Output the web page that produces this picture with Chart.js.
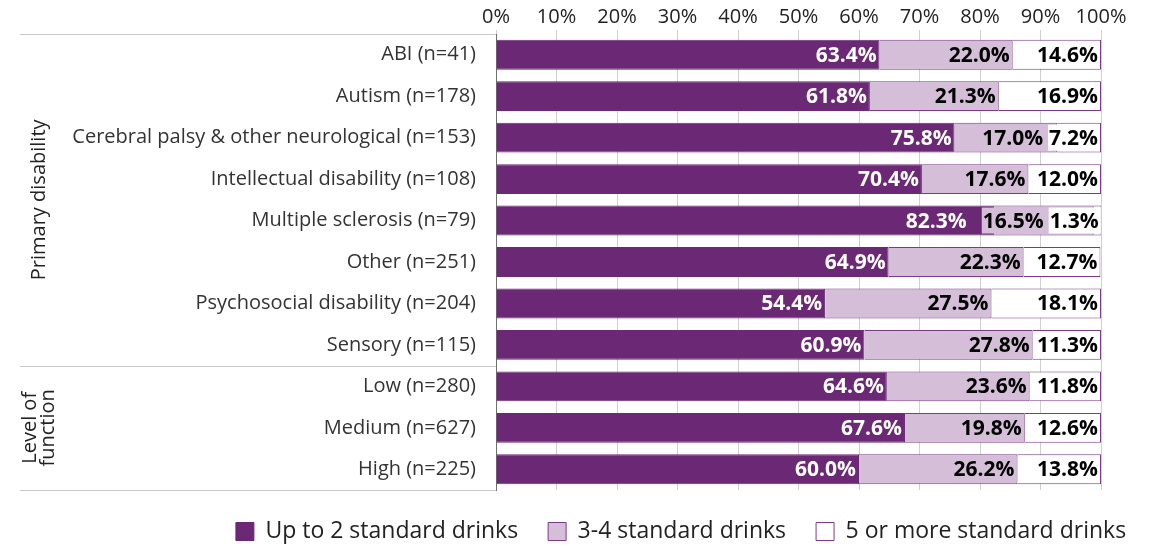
<!DOCTYPE html>
<html>
<head>
<meta charset="utf-8">
<script src="https://cdn.jsdelivr.net/npm/chart.js@4.4.1/dist/chart.umd.min.js"></script>
<style>
  html, body { margin: 0; padding: 0; background: #ffffff; }
  #wrap { width: 1161px; height: 546px; position: relative; }
</style>
</head>
<body>
<div id="wrap"><canvas id="c" width="1161" height="546"></canvas></div>
<script>
const categories = [
  'ABI (n=41)',
  'Autism (n=178)',
  'Cerebral palsy & other neurological (n=153)',
  'Intellectual disability (n=108)',
  'Multiple sclerosis (n=79)',
  'Other (n=251)',
  'Psychosocial disability (n=204)',
  'Sensory (n=115)',
  'Low (n=280)',
  'Medium (n=627)',
  'High (n=225)'
];
const upTo2 = [63.4, 61.8, 75.8, 70.4, 82.3, 64.9, 54.4, 60.9, 64.6, 67.6, 60.0];
const threeToFour = [22.0, 21.3, 17.0, 17.6, 16.5, 22.3, 27.5, 27.8, 23.6, 19.8, 26.2];
const fivePlus = [14.6, 16.9, 7.2, 12.0, 1.3, 12.7, 18.1, 11.3, 11.8, 12.6, 13.8];
const seriesNames = ['Up to 2 standard drinks', '3-4 standard drinks', '5 or more standard drinks'];
const xTicks = [0, 10, 20, 30, 40, 50, 60, 70, 80, 90, 100];
const groups = [
  { label: ['Primary disability'], from: 0, to: 7 },
  { label: ['Level of', 'function'], from: 8, to: 10 }
];

const DARK = '#6B2874';
const LIGHT = '#D4BED8';
const WHITE = '#FFFFFF';
const EDGE = '#7D3A88';
const FONT = "'Open Sans', 'DejaVu Sans', sans-serif";

const labelPlugin = {
  id: 'segLabels',
  afterDatasetsDraw(chart) {
    const ctx = chart.ctx;
    ctx.save();
    ctx.font = 'bold 21px ' + FONT;
    ctx.textBaseline = 'middle';
    ctx.textAlign = 'right';
    const n = chart.data.labels.length;
    const nd = chart.data.datasets.length;
    for (let i = 0; i < n; i++) {
      let prevLeft = Infinity;
      const items = [];
      for (let di = nd - 1; di >= 0; di--) {
        const ds = chart.data.datasets[di];
        const bar = chart.getDatasetMeta(di).data[i];
        const txt = ds.data[i].toFixed(1) + '%';
        const w = ctx.measureText(txt).width;
        let xr = Math.min(bar.x - 3, prevLeft - (di === 0 ? 16 : 6));
        prevLeft = xr - w;
        items.push({ di, ds, bar, txt, w, xr });
      }
      items.reverse().forEach(it => {
        if (it.di > 0) {
          ctx.fillStyle = it.ds.backgroundColor;
          ctx.fillRect(it.xr - it.w - 1, it.bar.y - 13, it.w + 3, 26);
          ctx.fillStyle = '#000000';
        } else {
          ctx.fillStyle = '#FFFFFF';
        }
        ctx.fillText(it.txt, it.xr, it.bar.y + 1);
      });
    }
    ctx.restore();
  }
};

const groupPlugin = {
  id: 'groups',
  afterLayout(chart) {
    const L = chart.legend;
    if (L) {
      const d = 681 - (L.left + L.right) / 2;
      L.left += d;
      L.right += d;
    }
  },
  afterDraw(chart) {
    const ctx = chart.ctx;
    const ys = chart.scales.y;
    const area = chart.chartArea;
    const step = ys.getPixelForValue(1) - ys.getPixelForValue(0);
    const x0 = 20, x1 = area.left;
    ctx.save();
    ctx.strokeStyle = '#C8C8C8';
    ctx.lineWidth = 1;
    const bounds = [ys.getPixelForValue(0) - step / 2];
    groups.forEach(g => bounds.push(ys.getPixelForValue(g.to) + step / 2));
    bounds.forEach(b => {
      const yy = Math.round(b) + 0.5;
      ctx.beginPath();
      ctx.moveTo(x0, yy);
      ctx.lineTo(x1, yy);
      ctx.stroke();
    });
    ctx.fillStyle = '#222222';
    ctx.font = '20px ' + FONT;
    ctx.textAlign = 'center';
    ctx.textBaseline = 'middle';
    groups.forEach(g => {
      const top = ys.getPixelForValue(g.from) - step / 2;
      const bot = ys.getPixelForValue(g.to) + step / 2;
      const cy = (top + bot) / 2;
      ctx.save();
      ctx.translate(39, cy);
      ctx.rotate(-Math.PI / 2);
      const lh = 18;
      g.label.forEach((line, k) => {
        ctx.fillText(line, 0, (k - (g.label.length - 1) / 2) * lh);
      });
      ctx.restore();
    });
    ctx.restore();
  }
};

new Chart(document.getElementById('c'), {
  type: 'bar',
  data: {
    labels: categories,
    datasets: [
      { label: seriesNames[0], data: upTo2, backgroundColor: DARK, borderColor: DARK, borderWidth: 1 },
      { label: seriesNames[1], data: threeToFour, backgroundColor: LIGHT, borderColor: EDGE, borderWidth: 1 },
      { label: seriesNames[2], data: fivePlus, backgroundColor: WHITE, borderColor: EDGE, borderWidth: 1 }
    ]
  },
  options: {
    indexAxis: 'y',
    responsive: false,
    animation: false,
    devicePixelRatio: 1,
    layout: { padding: { top: 4, right: 60, bottom: -7, left: 0 } },
    datasets: { bar: { categoryPercentage: 1.0, barPercentage: 0.72 } },
    scales: {
      x: {
        position: 'top',
        stacked: true,
        min: 0,
        max: 100,
        afterBuildTicks(scale) { scale.ticks = xTicks.map(v => ({ value: v })); },
        ticks: {
          callback: v => v + '%',
          color: '#222222',
          font: { family: FONT, size: 20 },
          padding: 1,
          maxRotation: 0
        },
        grid: { color: '#D0D0D0', tickLength: 4, drawTicks: true },
        border: { display: false }
      },
      y: {
        stacked: true,
        afterFit(scale) { scale.width = 496; },
        ticks: {
          color: '#333333',
          font: { family: FONT, size: 20 },
          padding: 12,
          autoSkip: false
        },
        grid: { display: false },
        border: { display: true, color: '#707070', width: 1 }
      }
    },
    plugins: {
      legend: {
        position: 'bottom',
        labels: {
          boxWidth: 18,
          boxHeight: 18,
          color: '#222222',
          font: { family: FONT, size: 23 },
          padding: 30,
          useBorderRadius: false
        }
      },
      tooltip: { enabled: false }
    }
  },
  plugins: [labelPlugin, groupPlugin]
});
</script>
</body>
</html>
